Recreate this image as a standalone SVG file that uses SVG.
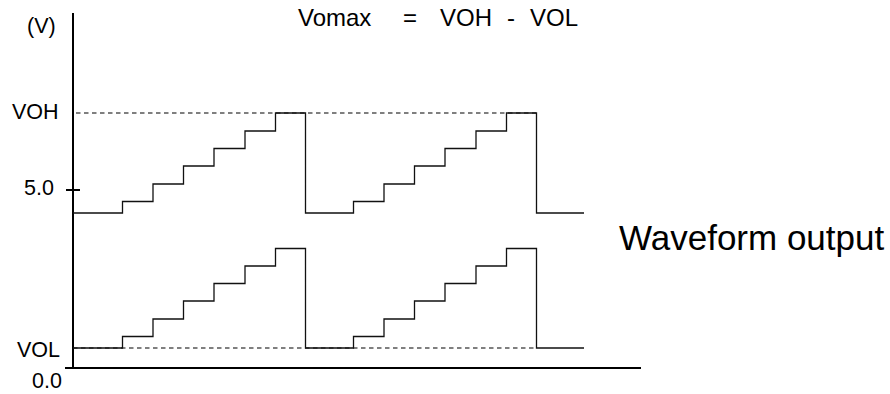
<svg xmlns="http://www.w3.org/2000/svg" width="890" height="394" viewBox="0 0 890 394">
<style>
  .lbl { font-family: "Liberation Sans", Arial, sans-serif; fill: #000; }
  .axis { stroke: #000; stroke-width: 2; fill: none; }
  .wave { stroke: #111; stroke-width: 1.3; fill: none; }
  .dash { stroke: #000; stroke-width: 1.2; stroke-dasharray: 4.5 3.5; fill: none; }
</style>
<rect width="890" height="394" fill="#fff"/>
<g id="axes">
  <line class="axis" x1="73" y1="13" x2="73" y2="369"/>
  <line class="axis" x1="65" y1="368" x2="641" y2="368"/>
  <line class="axis" x1="66" y1="190" x2="80" y2="190" stroke-width="1.5"/>
</g>
<g id="reference-lines">
  <line class="dash" x1="76" y1="113" x2="536" y2="113"/>
  <line class="dash" x1="73" y1="348" x2="536" y2="348"/>
</g>
<g id="waveform-upper">
  <path class="wave" d="M73,213 H122.5 V201.5 H153 V184 H183.5 V166 H214 V148.5 H245 V131 H275.5 V113 H305.5 V213 H353.5 V201.5 H384 V184 H414.5 V166 H445 V148.5 H476 V131 H506.5 V113 H536.5 V213 H584"/>
</g>
<g id="waveform-lower">
  <path class="wave" d="M73,348 H122.5 V336.5 H153 V319 H183.5 V301 H214 V283.5 H245 V266 H275.5 V248.5 H305.5 V348 H353.5 V336.5 H384 V319 H414.5 V301 H445 V283.5 H476 V266 H506.5 V248.5 H536.5 V348 H584"/>
</g>
<g id="labels">
  <text class="lbl" x="27" y="33" font-size="21.5">(V)</text>
  <text class="lbl" x="12" y="119" font-size="21.5">VOH</text>
  <text class="lbl" x="24" y="195" font-size="21.5">5.0</text>
  <text class="lbl" x="17" y="357" font-size="21.5">VOL</text>
  <text class="lbl" x="32" y="388" font-size="21.5">0.0</text>
</g>
<g id="formula">
  <text class="lbl" x="298" y="26" font-size="24">Vomax</text>
  <text class="lbl" x="403" y="26" font-size="24">=</text>
  <text class="lbl" x="440" y="26" font-size="24">VOH</text>
  <text class="lbl" x="507" y="26" font-size="24">-</text>
  <text class="lbl" x="530" y="26" font-size="24">VOL</text>
</g>
<g id="title">
  <text class="lbl" x="619" y="250" font-size="35">Waveform output</text>
</g>
</svg>
